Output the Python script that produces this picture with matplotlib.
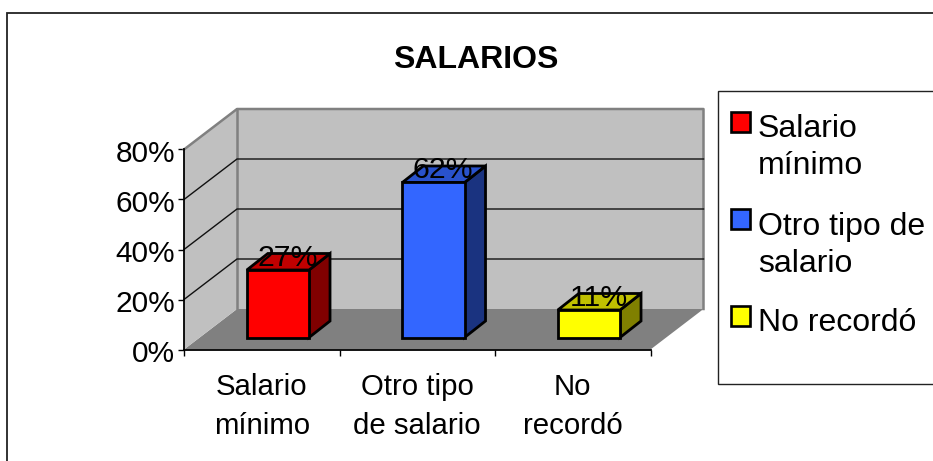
import matplotlib
matplotlib.use('Agg')
from matplotlib import pyplot as plt
from matplotlib.patches import Polygon, Rectangle
from matplotlib.transforms import ScaledTranslation

plt.rcParams['font.family'] = ['Liberation Sans', 'DejaVu Sans']

# data
categories = ['Salario\nmínimo', 'Otro tipo\nde salario', 'No\nrecordó']
legend_labels = ['Salario\nmínimo', 'Otro tipo de\nsalario', 'No recordó']
values = [27, 62, 11]
data_labels = ['27%', '62%', '11%']
yticks = [0, 20, 40, 60, 80]

front_colors = ['#ff0000', '#3366ff', '#ffff00']
side_colors = ['#800000', '#1a3380', '#808000']
top_colors = ['#c00000', '#2952cc', '#c0c000']

W, H = 933, 461
fig = plt.figure(figsize=(W/100, H/100), dpi=100)

# front plane of the 3d box, in pixels
left, right, top, bottom = 184, 650.5, 149.5, 349.5
ax = fig.add_axes([left/W, 1-bottom/H, (right-left)/W, (bottom-top)/H])
ax.set_xlim(0, 3)
ax.set_ylim(0, 80)
ax.patch.set_alpha(0)

# depth of the box and of the bars, in data units
dx = 53/155.5
dy = 40.5/2.5
bar_w = 0.40
bar_shift = 0.104
bar_lift = 4.8
bar_dx = 21/155.5
bar_dy = 6.6
bar_lw = 2.0

wall = '#c0c0c0'
edge = '#808080'


def poly(pts, fc, ec='none', lw=0, z=1):
    ax.add_patch(Polygon(pts, closed=True, facecolor=fc, edgecolor=ec, linewidth=lw,
                         joinstyle='miter', clip_on=False, zorder=z))


# walls and floor
poly([(0, 0), (dx, dy), (3+dx, dy), (3, 0)], edge, z=1)
poly([(dx, dy), (dx, 80+dy), (3+dx, 80+dy), (3+dx, dy)], wall, z=1)
poly([(0, 0), (0, 80), (dx, 80+dy), (dx, dy)], wall, z=1)
ax.plot([0, dx, 3+dx, 3+dx], [80, 80+dy, 80+dy, dy], color=edge, lw=1.8, clip_on=False, zorder=2)
ax.plot([dx, dx], [dy, 80+dy], color=edge, lw=1.8, clip_on=False, zorder=2)

# gridlines
for t in yticks[1:-1]:
    ax.plot([0, dx, 3+dx], [t, t+dy, t+dy], color='#111111', lw=1.0, clip_on=False, zorder=2)

# bars
x_pos = [i+0.5+bar_shift for i in range(len(values))]
ax.bar(x_pos, values, width=bar_w, bottom=bar_lift, color=front_colors,
       edgecolor='black', linewidth=bar_lw, zorder=5, clip_on=False)
for xc, v, sc, tc in zip(x_pos, values, side_colors, top_colors):
    x0, x1 = xc-bar_w/2, xc+bar_w/2
    y0, y1 = bar_lift, bar_lift+v
    poly([(x1, y0), (x1+bar_dx, y0+bar_dy), (x1+bar_dx, y1+bar_dy), (x1, y1)], sc, 'black', bar_lw, 4)
    poly([(x0, y1), (x0+bar_dx, y1+bar_dy), (x1+bar_dx, y1+bar_dy), (x1, y1)], tc, 'black', bar_lw, 4)

# data labels
for xc, v, lab in zip(x_pos, values, data_labels):
    ax.text(xc+0.062, bar_lift+v+4.9, lab, ha='center', va='center', fontsize=21.8,
            color='black', zorder=6)

# axes
for s in ['top', 'right']:
    ax.spines[s].set_visible(False)
for s in ['left', 'bottom']:
    ax.spines[s].set_linewidth(1.3)
    ax.spines[s].set_zorder(3)
ax.set_yticks(yticks)
ax.set_yticklabels([f'{t}%' for t in yticks], fontsize=21.5)
ax.tick_params(axis='y', length=4, width=1.0, pad=2.5)
for lab in ax.get_yticklabels():
    lab.set_transform(lab.get_transform() + ScaledTranslation(0, -1.4/72, fig.dpi_scale_trans))
ax.set_xticks([0, 1, 2, 3])
ax.set_xticklabels([])
ax.set_xticks([0.5, 1.5, 2.5], minor=True)
ax.set_xticklabels(categories, minor=True, fontsize=21.2, linespacing=1.5)
ax.tick_params(axis='x', which='major', length=4, width=1.0)
ax.tick_params(axis='x', which='minor', length=0, pad=17)


# chart frame, title and legend are placed in pixels
def fx(x):
    return x/W


def fy(y):
    return 1-y/H


fig.add_artist(Rectangle((fx(6.5), fy(470)), (940-6.5)/W, (470-13)/H, transform=fig.transFigure,
                         facecolor='none', edgecolor='#222222', linewidth=1.3, zorder=-1))
fig.text(fx(476), fy(60), 'SALARIOS', ha='center', va='center', fontsize=23,
         fontweight='bold', color='black')

fig.add_artist(Rectangle((fx(717.5), fy(384)), (940-717.5)/W, (384-91)/H, transform=fig.transFigure,
                         facecolor='white', edgecolor='#222222', linewidth=1.0))
swatch_y = [112, 209, 306]
text_y = [147.5, 245.5, 323]
for sy, ty, lab, c in zip(swatch_y, text_y, legend_labels, front_colors):
    fig.add_artist(Rectangle((fx(730.5), fy(sy+20)), 19.5/W, 20/H, transform=fig.transFigure,
                             facecolor=c, edgecolor='black', linewidth=1.9))
    fig.text(fx(758), fy(ty), lab, ha='left', va='center', fontsize=23, linespacing=1.27,
             color='black')

fig.savefig('out.png', dpi=100)
